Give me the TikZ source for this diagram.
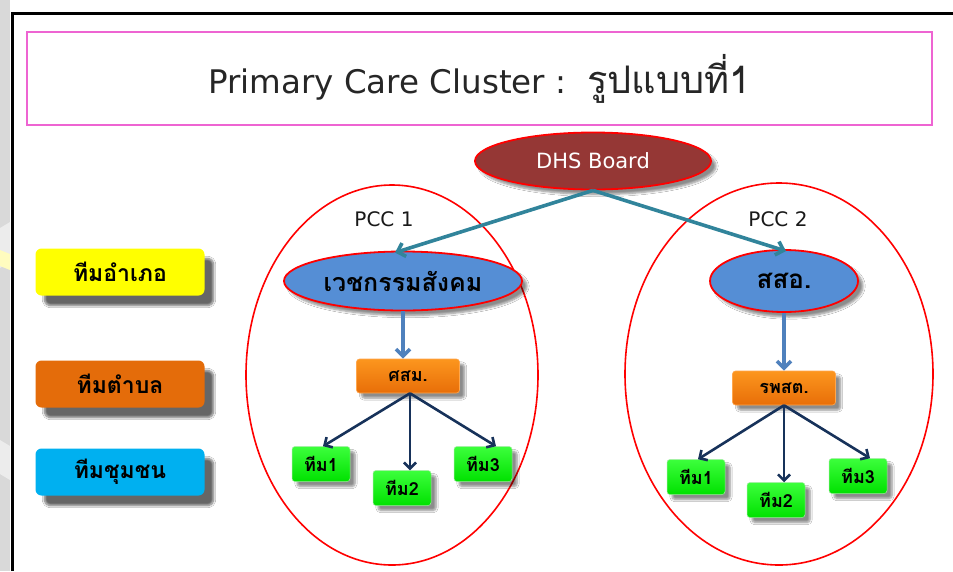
\documentclass[tikz,border=0pt]{standalone}
\usepackage{fontspec}
\setmainfont{DejaVu Sans}
\newfontfamily\thai[Script=Thai]{Loma}
\usetikzlibrary{arrows.meta,shapes.geometric,shadows.blur}
\definecolor{pinkline}{RGB}{238,100,210}
\definecolor{dhsred}{RGB}{149,55,53}
\definecolor{ellblue}{RGB}{85,142,213}
\definecolor{tealarr}{RGB}{49,132,155}
\definecolor{bluearr}{RGB}{79,129,189}
\definecolor{navyarr}{RGB}{23,50,90}
\definecolor{greenbox}{RGB}{0,225,0}
\definecolor{greenlight}{RGB}{60,255,60}
\definecolor{orgtop}{RGB}{252,150,30}
\definecolor{orgbot}{RGB}{232,110,8}
\definecolor{lblyellow}{RGB}{255,255,0}
\definecolor{lblorange}{RGB}{228,108,10}
\definecolor{lblcyan}{RGB}{0,176,240}
\tikzset{
  oval/.style={ellipse, inner sep=0pt, draw=red, line width=1.8pt},
  pccring/.style={ellipse, inner sep=0pt, draw=red, line width=1.6pt},
  shad/.style={blur shadow={shadow xshift=5pt, shadow yshift=-5pt, shadow blur steps=6, shadow opacity=45}},
  orgbox/.style={rectangle, rounded corners=3pt, top color=orgtop, bottom color=orgbot, draw=orange!70, line width=0.6pt, minimum width=103pt, minimum height=34pt, inner sep=0pt, font=\thai\bfseries\fontsize{18}{20}\selectfont, shad},
  grnbox/.style={rectangle, rounded corners=3pt, top color=greenlight, bottom color=greenbox, draw=green!80!black!40, line width=0.5pt, minimum width=58pt, minimum height=35pt, inner sep=0pt, font=\thai\bfseries\fontsize{18}{20}\selectfont, shad},
  lbl/.style={rectangle, rounded corners=6pt, minimum width=169pt, minimum height=47pt, inner sep=0pt, font=\thai\bfseries\fontsize{23}{25}\selectfont, blur shadow={shadow xshift=9pt, shadow yshift=-10pt, shadow blur steps=8, shadow opacity=60}},
  tealline/.style={draw=tealarr, line width=3.6pt, -{Straight Barb[length=7pt,width=14pt]}},
  blueline/.style={draw=bluearr, line width=3.6pt, -{Straight Barb[length=7pt,width=14pt]}},
  navyline/.style={draw=navyarr, line width=2.6pt, -{Straight Barb[length=6pt,width=12pt]}},
  pcclbl/.style={font=\fontsize{20}{22}\selectfont, text=black!90}
}
\begin{document}
\begin{tikzpicture}[x=1pt,y=-1pt]
\useasboundingbox (0,0) rectangle (953,571);
\fill[white] (0,0) rectangle (953,571);
% slide edge remnants
\fill[gray!30] (0,0) rectangle (10,571);
\fill[gray!15] (0,228) -- (10,222) -- (10,262) -- (0,268) -- cycle;
\fill[yellow!25] (0,250) -- (10,254) -- (10,270) -- (0,266) -- cycle;
\fill[gray!15] (0,440) -- (10,446) -- (10,480) -- (0,474) -- cycle;
\draw[line width=2.6pt] (12.5,571) -- (12.5,13.5) -- (953,13.5);

% title
\node[draw=pinkline, line width=1.4pt, minimum width=905pt, minimum height=93pt, inner sep=0pt] (title) at (479.5,78.5)
  {\fontsize{32.5}{35}\selectfont\color{black!85}Primary Care Cluster :\ \ {\thai\fontsize{38}{41}\selectfont รูปแบบที่1}};

% PCC rings
\node[pccring, minimum width=292pt, minimum height=380pt] (ring1) at (392,375) {};
\node[pccring, minimum width=308pt, minimum height=382pt] (ring2) at (779,374) {};
\node[pcclbl] (pcc1) at (384,219) {PCC 1};
\node[pcclbl] (pcc2) at (778,219) {PCC 2};

% DHS board
\node[oval, fill=dhsred, minimum width=236pt, minimum height=57pt, text=white, font=\fontsize{21}{23}\selectfont, shad] (dhs) at (593,161) {DHS Board};

% district level
\node[oval, fill=ellblue, minimum width=238pt, minimum height=59pt, font=\thai\bfseries\fontsize{25}{27}\selectfont, shad] (vc) at (403,281) {เวชกรรมสังคม};
\node[oval, fill=ellblue, minimum width=148pt, minimum height=62pt, font=\thai\bfseries\fontsize{26}{28}\selectfont, shad] (ssa) at (784,281) {สสอ.};

% sub-district level
\node[orgbox] (ssm) at (408,376) {ศสม.};
\node[orgbox] (rps) at (784,388) {รพสต.};

% community teams
\node[grnbox] (a1) at (321,464) {ทีม1};
\node[grnbox] (a2) at (402,488) {ทีม2};
\node[grnbox] (a3) at (483,464) {ทีม3};
\node[grnbox] (b1) at (696,477) {ทีม1};
\node[grnbox] (b2) at (776,500) {ทีม2};
\node[grnbox] (b3) at (858,476) {ทีม3};

% left labels
\node[lbl, fill=lblyellow] (lamphoe) at (120,272) {ทีมอำเภอ};
\node[lbl, fill=lblorange] (ltambon) at (120,384) {ทีมตำบล};
\node[lbl, fill=lblcyan] (lchumchon) at (120,472) {ทีมชุมชน};

% connectors
\draw[tealline] (dhs.south) -- ([xshift=-8pt,yshift=-2pt]vc.north);
\draw[tealline] (dhs.south) -- ([xshift=2pt,yshift=-2pt]ssa.north);
\draw[blueline] (vc.south) -- (vc.south |- ssm.north);
\draw[blueline] (ssa.south) -- (ssa.south |- rps.north);
\draw[navyline] ([xshift=2pt]ssm.south) -- ([xshift=2pt]a1.north);
\draw[navyline] ([xshift=2pt]ssm.south) -- ([xshift=2pt]ssm.south |- a2.north);
\draw[navyline] ([xshift=2pt]ssm.south) -- ([xshift=13pt]a3.north);
\draw[navyline] (rps.south) -- ([xshift=2pt]b1.north);
\draw[navyline] (rps.south) -- (rps.south |- b2.north);
\draw[navyline] (rps.south) -- ([xshift=12pt]b3.north);
\end{tikzpicture}
\end{document}
